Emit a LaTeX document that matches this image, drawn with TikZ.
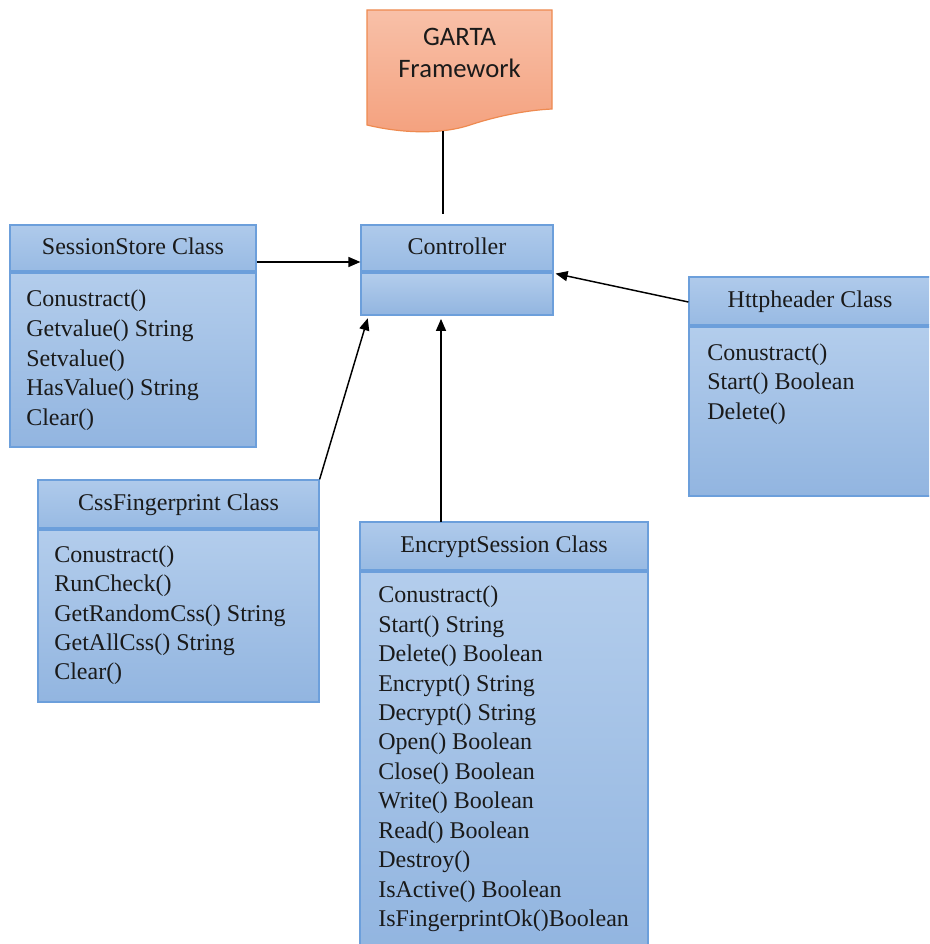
\documentclass[tikz,border=0pt]{standalone}
\usepackage{fontspec}
\setmainfont{Liberation Serif}
\newfontfamily\umlfont{Liberation Serif}
\newfontfamily\gartafont{Carlito}
\usetikzlibrary{arrows.meta,calc}
\definecolor{htop}{HTML}{AFCAEB}
\definecolor{hbot}{HTML}{98BAE3}
\definecolor{btop}{HTML}{B3CDEC}
\definecolor{bbot}{HTML}{92B5E0}
\definecolor{bord}{HTML}{6C9FDB}
\definecolor{otop}{HTML}{F8C0A8}
\definecolor{obot}{HTML}{F4A17E}
\definecolor{obord}{HTML}{EE8A50}
\definecolor{txt}{HTML}{1A1A1A}
\begin{document}
\begin{tikzpicture}[x=0.75pt,y=-0.75pt,
  hdr/.style={draw=bord, line width=0.9pt, top color=htop, bottom color=hbot,
    font=\umlfont\fontsize{18pt}{22pt}\selectfont, text=txt, text height=13.5pt, text depth=3.6pt, inner sep=0pt},
  bdy/.style={draw=bord, line width=0.9pt, top color=btop, bottom color=bbot, inner sep=0pt},
  item/.style={font=\umlfont\fontsize{18pt}{22pt}\selectfont, text=txt, inner sep=0pt, anchor=base west},
  arr/.style={draw=black, line width=1.1pt, -{Triangle[length=9pt,width=7.5pt]}},
  plain/.style={draw=black, line width=1.1pt}]
\useasboundingbox (0,0) rectangle (929,944);
\clip (0,0) rectangle (929,944);

% GARTA Framework document shape
\path[draw=obord, line width=0.9pt, top color=otop, bottom color=obot]
  (367,10) -- (552,10) -- (552,109)
  .. controls (530,110) and (500,115) .. (470,125)
  .. controls (440,135) and (400,133) .. (367,125) -- cycle;
\node[font=\gartafont\fontsize{20pt}{24pt}\selectfont, text=txt, inner sep=0pt, anchor=base] (garta1) at (459.5,46) {GARTA};
\node[font=\gartafont\fontsize{20pt}{24pt}\selectfont, text=txt, inner sep=0pt, anchor=base] (garta2) at (459.5,78) {Framework};

% Controller
\node[hdr, minimum width=144pt, minimum height=34.5pt] (ctrlh) at (457,248) {Controller};
\node[bdy, minimum width=144pt, minimum height=31.5pt] (ctrlb) at (457,294) {};

% SessionStore
\node[hdr, minimum width=184.5pt, minimum height=34.5pt] (ssh) at (133,248) {SessionStore Class};
\node[bdy, minimum width=184.5pt, minimum height=130.5pt] (ssb) at (133,360) {};
\foreach \t [count=\i] in {{Conustract()},{Getvalue() String},{Setvalue()},{HasValue() String},{Clear()}}
  \node[item] (ss\i) at (26,{307+29.5*(\i-1)}) {\t};

% Httpheader
\node[hdr, minimum width=181.5pt, minimum height=36pt] (hth) at (810,301) {Httpheader Class};
\node[bdy, minimum width=181.5pt, minimum height=126.75pt] (htb) at (810,411.5) {};
\foreach \t [count=\i] in {{Conustract()},{Start() Boolean},{Delete()}}
  \node[item] (ht\i) at (707,{360+29.5*(\i-1)}) {\t};

% CssFingerprint
\node[hdr, minimum width=210.75pt, minimum height=36pt] (cssh) at (178.5,504) {CssFingerprint Class};
\node[bdy, minimum width=210.75pt, minimum height=129pt] (cssb) at (178.5,616) {};
\foreach \t [count=\i] in {{Conustract()},{RunCheck()},{GetRandomCss() String},{GetAllCss() String},{Clear()}}
  \node[item] (css\i) at (54,{562.5+29.3*(\i-1)}) {\t};

% EncryptSession
\node[hdr, minimum width=216pt, minimum height=36pt] (ench) at (504,546) {EncryptSession Class};
\node[bdy, minimum width=216pt, minimum height=283.5pt] (encb) at (504,761) {};
\foreach \t [count=\i] in {{Conustract()},{Start() String},{Delete() Boolean},{Encrypt() String},{Decrypt() String},{Open() Boolean},{Close() Boolean},{Write() Boolean},{Read() Boolean},{Destroy()},{IsActive() Boolean},{IsFingerprintOk()Boolean}}
  \node[item] (enc\i) at (378,{602.7+29.45*(\i-1)}) {\t};

% connectors
\coordinate (gb) at (443,131);
\draw[plain, shorten >=7.5pt] (gb) -- (gb |- ctrlh.north);
\draw[arr] ([yshift=-10.5pt]ssh.east) -- ([yshift=-10.5pt]ssh.east -| ctrlh.west);
\draw[arr] ([yshift=-0.75pt]hth.west) -- ([yshift=-1.5pt,xshift=1.5pt]ctrlh.south east);
\draw[arr] (cssh.north east) -- ([xshift=5.5pt,yshift=-2pt]ctrlb.south west);
\coordinate (ea) at (441,522);
\draw[arr] (ea) -- ([yshift=-2.5pt]ea |- ctrlb.south);
\end{tikzpicture}
\end{document}
